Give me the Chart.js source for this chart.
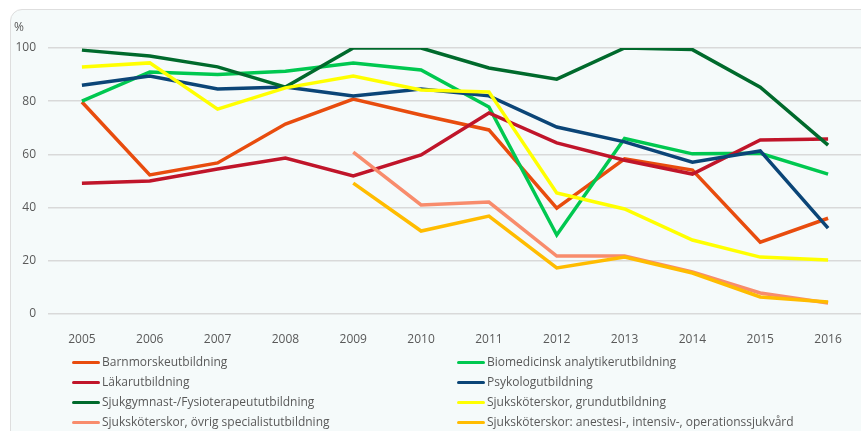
<!DOCTYPE html>
<html lang="sv">
<head>
<meta charset="UTF-8">
<title>Utbildningar</title>
<script src="https://cdn.jsdelivr.net/npm/chart.js"></script>
<style>
    html, body { margin: 0; padding: 0; background: #fff; overflow: hidden; width: 861px; height: 431px; }
    #panel {
        position: absolute; left: 10px; top: 9px; width: 900px; height: 500px;
        border: 1px solid #dedede; border-radius: 12px; background: #f5fafa;
    }
    #wrap { position: absolute; left: 0; top: 0; width: 880px; height: 431px; }
    #unit { position: absolute; left: 14px; top: 18px; font: 12px "Open Sans", sans-serif; color: #595959; }
    #legend { position: absolute; left: 0; top: 0; font: 12px "Open Sans", sans-serif; color: #595959; }
    .item { position: absolute; white-space: nowrap; line-height: 16px; }
    .item span.ln { display: inline-block; width: 28px; height: 3px; border-radius: 2px; vertical-align: middle; margin-right: 2px; }
</style>
</head>
<body>
<div id="panel"></div>
<div id="wrap"><canvas id="chart" width="880" height="431"></canvas></div>
<div id="unit">%</div>
<div id="legend"></div>

<script>
    // Data
    const years = ['2005', '2006', '2007', '2008', '2009', '2010', '2011', '2012', '2013', '2014', '2015', '2016'];
    const seriesNames = [
        'Barnmorskeutbildning',
        'Biomedicinsk analytikerutbildning',
        'Läkarutbildning',
        'Psykologutbildning',
        'Sjukgymnast-/Fysioterapeututbildning',
        'Sjuksköterskor, grundutbildning',
        'Sjuksköterskor, övrig specialistutbildning',
        'Sjuksköterskor: anestesi-, intensiv-, operationssjukvård'
    ];
    const barnmorske   = [79.7, 52.3, 56.8, 71.4, 80.8, 74.8, 69.2, 39.8, 58.3, 54.1, 27.0, 36.0];
    const biomedicinsk = [80.0, 91.0, 90.0, 91.3, 94.4, 91.7, 77.8, 29.7, 66.0, 60.2, 60.4, 52.6];
    const lakare       = [49.2, 50.0, 54.5, 58.6, 51.9, 59.8, 75.6, 64.3, 57.8, 52.6, 65.4, 65.8];
    const psykolog     = [86.0, 89.5, 84.6, 85.3, 82.0, 84.6, 82.0, 70.3, 64.7, 57.1, 61.3, 32.3];
    const sjukgymnast  = [99.2, 97.0, 92.9, 85.3, 100, 100, 92.5, 88.3, 100, 99.4, 85.3, 63.5];
    const grund        = [92.9, 94.4, 77.0, 85.0, 89.5, 84.2, 83.5, 45.5, 39.5, 27.8, 21.4, 20.3];
    const ovrigSpec    = [null, null, null, null, 60.9, 41.0, 42.1, 21.8, 21.8, 15.8, 7.9, 4.1];
    const anestesi     = [null, null, null, null, 49.2, 31.2, 36.8, 17.3, 21.4, 15.4, 6.4, 4.5];
    const yTicks = [0, 20, 40, 60, 80, 100];

    const allSeries = [barnmorske, biomedicinsk, lakare, psykolog, sjukgymnast, grund, ovrigSpec, anestesi];
    const colors = ['#e84c0e', '#00c850', '#c0152a', '#0b4577', '#006a2c', '#ffff00', '#f88c6c', '#ffbc00'];

    const textColor = '#595959';
    const fontFamily = '"Open Sans", sans-serif';

    const datasets = allSeries.map((values, i) => ({
        label: seriesNames[i],
        data: values,
        borderColor: colors[i],
        backgroundColor: colors[i],
        borderWidth: 3.5,
        pointRadius: 0,
        tension: 0,
        fill: false,
        order: allSeries.length - i // later series on top
    }));

    new Chart(document.getElementById('chart'), {
        type: 'line',
        data: { labels: years, datasets: datasets },
        options: {
            responsive: false,
            animation: false,
            layout: { padding: { left: 0, right: 18, top: 48, bottom: 87 } },
            plugins: {
                legend: { display: false },
                tooltip: { enabled: false }
            },
            scales: {
                x: {
                    offset: true,
                    grid: { display: false },
                    border: { display: false },
                    ticks: { color: textColor, font: { family: fontFamily, size: 12 }, padding: 10, maxRotation: 0 },
                    afterFit: s => { s.height = 30; }
                },
                y: {
                    min: 0,
                    max: 100,
                    afterBuildTicks: s => { s.ticks = yTicks.map(v => ({ value: v })); },
                    grid: { color: '#d9d9d9', lineWidth: 1.5, drawTicks: false },
                    border: { display: false },
                    ticks: { color: textColor, font: { family: fontFamily, size: 12 }, padding: 12 },
                    afterFit: s => { s.width = 48; }
                }
            }
        }
    });

    // Legend in two columns, filled row by row
    const legend = document.getElementById('legend');
    seriesNames.forEach((name, i) => {
        const col = i % 2, row = Math.floor(i / 2);
        const div = document.createElement('div');
        div.className = 'item';
        div.style.left = (col === 0 ? 72 : 457) + 'px';
        div.style.top = (354 + row * 20) + 'px';
        div.innerHTML = '<span class="ln" style="background:' + colors[i] + '"></span>' + name;
        legend.appendChild(div);
    });
</script>
</body>
</html>
